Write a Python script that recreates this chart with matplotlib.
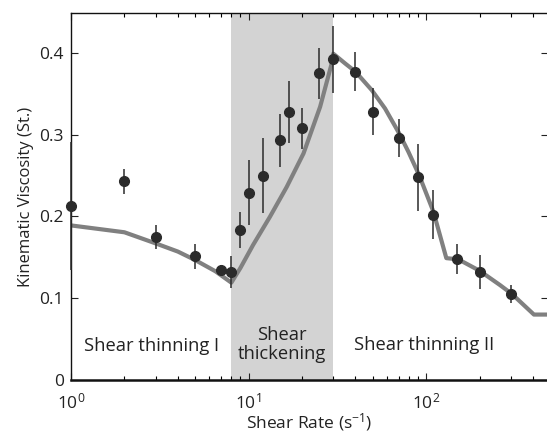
import matplotlib
matplotlib.use("Agg")
import matplotlib.pyplot as plt
from matplotlib.ticker import LogLocator, NullFormatter, FixedLocator, FixedFormatter

# Measured viscosity with error bars
shear_rate = [1, 2, 3, 5, 7, 8, 9, 10, 12, 15, 17, 20, 25, 30, 40, 50, 70, 90, 110, 150, 200, 300]
viscosity = [0.213, 0.243, 0.175, 0.151, 0.135, 0.132, 0.183, 0.229, 0.250, 0.293, 0.328,
             0.308, 0.375, 0.392, 0.377, 0.328, 0.296, 0.248, 0.202, 0.148, 0.132, 0.105]
viscosity_err = [0.078, 0.015, 0.015, 0.015, 0.005, 0.020, 0.022, 0.040, 0.046, 0.032, 0.038,
                 0.025, 0.031, 0.041, 0.024, 0.029, 0.023, 0.041, 0.030, 0.018, 0.021, 0.011]

# Model curve
model_rate = [1, 2, 3, 4, 5, 6.5, 8, 9, 10.6, 13.2, 16.4, 20.4, 25.3, 29.4, 30, 35, 40, 49.4,
              58.7, 70.5, 79.5, 91.3, 110, 130, 152, 200, 261, 305, 405, 486]
model_visc = [0.189, 0.1806, 0.167, 0.157, 0.1467, 0.133, 0.119, 0.137, 0.165, 0.1996, 0.236,
              0.277, 0.334, 0.387, 0.399, 0.387, 0.377, 0.3545, 0.332, 0.3016, 0.279, 0.2506,
              0.2057, 0.149, 0.1475, 0.1336, 0.116, 0.105, 0.08, 0.08]

thickening_band = (8, 30)
x_limits = (1, 486)
y_limits = (0, 0.4487)
y_ticks = [0, 0.1, 0.2, 0.3, 0.4]
y_tick_labels = ["0", "0.1", "0.2", "0.3", "0.4"]

regions = [
    ("Shear thinning I", 2.86, 0.042),
    ("Shear\nthickening", 15.4, 0.0436),
    ("Shear thinning II", 98, 0.0428),
]

font = "Open Sans"
plt.rcParams["font.family"] = [font, "DejaVu Sans"]
plt.rcParams["mathtext.fontset"] = "custom"
plt.rcParams["mathtext.rm"] = font
plt.rcParams["mathtext.it"] = font + ":italic"

fig = plt.figure(figsize=(5.47, 4.38), dpi=100)
W, H = 547, 438
ax = fig.add_axes([71 / W, (H - 380) / H, (548 - 71) / W, (380 - 13) / H])

ax.axvspan(*thickening_band, color="#d3d3d3", lw=0, zorder=0)
ax.plot(model_rate, model_visc, color="#808080", lw=3.0, solid_joinstyle="round",
        solid_capstyle="butt", zorder=2)
ax.errorbar(shear_rate, viscosity, yerr=viscosity_err, fmt="o", color="#2b2b2b",
            ecolor="#2b2b2b", elinewidth=1.1, capsize=0, markersize=7, zorder=3,
            clip_on=False)

ax.set_xscale("log")
ax.set_xlim(*x_limits)
ax.set_ylim(*y_limits)

ax.xaxis.set_major_locator(LogLocator(base=10, numticks=10))
ax.xaxis.set_minor_locator(LogLocator(base=10, subs=range(2, 10), numticks=20))
ax.xaxis.set_minor_formatter(NullFormatter())
ax.yaxis.set_major_locator(FixedLocator(y_ticks))
ax.yaxis.set_major_formatter(FixedFormatter(y_tick_labels))

ax.tick_params(which="major", direction="in", length=5, width=0.8, top=True, right=True,
               labelsize=12.5, colors="#222222", pad=5)
ax.tick_params(which="minor", direction="in", length=3, width=0.8, top=True, right=True)
ax.tick_params(axis="x", which="major", pad=9)

for side in ["left", "top", "right"]:
    ax.spines[side].set_linewidth(1.0)
    ax.spines[side].set_color("#111111")
ax.spines["bottom"].set_linewidth(1.8)
ax.spines["bottom"].set_color("#111111")

ax.set_xlabel("Shear Rate (s$^{-1}$)", fontsize=12.5, color="#222222", labelpad=-1)
ax.set_ylabel("Kinematic Viscosity (St.)", fontsize=12, color="#222222", labelpad=4)

for text, xpos, ypos in regions:
    ax.text(xpos, ypos, text, ha="center", va="center", fontsize=13.2, color="#222222",
            linespacing=1.05)

fig.savefig("out.png", dpi=100)
